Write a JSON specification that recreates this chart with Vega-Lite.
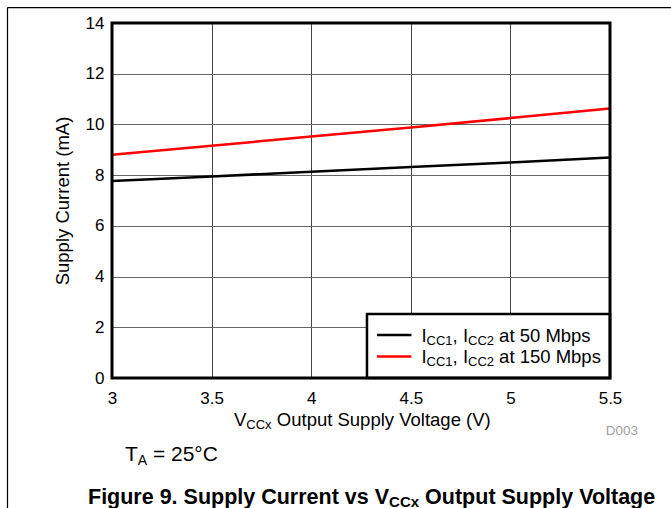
{
  "$schema": "https://vega.github.io/schema/vega-lite/v6.json",
  "width": 498,
  "height": 355,
  "autosize": {"type": "none"},
  "padding": {"left": 112, "top": 23, "right": 61, "bottom": 130},
  "background": "white",
  "data": {"values": [{}]},
  "config": {
    "view": {"stroke": null},
    "font": "Liberation Sans",
    "text": {"font": "Liberation Sans", "color": "black", "align": "left", "baseline": "alphabetic"},
    "axis": {"labelFont": "Liberation Sans", "titleFont": "Liberation Sans", "labelColor": "black", "titleColor": "black"}
  },
  "datasets": {
    "curves": [
      {"V": 3.0, "I": 7.77, "series": "50 Mbps"},
      {"V": 3.5, "I": 7.95, "series": "50 Mbps"},
      {"V": 4.0, "I": 8.13, "series": "50 Mbps"},
      {"V": 4.5, "I": 8.32, "series": "50 Mbps"},
      {"V": 5.0, "I": 8.5, "series": "50 Mbps"},
      {"V": 5.5, "I": 8.7, "series": "50 Mbps"},
      {"V": 3.0, "I": 8.8, "series": "150 Mbps"},
      {"V": 3.5, "I": 9.16, "series": "150 Mbps"},
      {"V": 4.0, "I": 9.52, "series": "150 Mbps"},
      {"V": 4.5, "I": 9.88, "series": "150 Mbps"},
      {"V": 5.0, "I": 10.25, "series": "150 Mbps"},
      {"V": 5.5, "I": 10.63, "series": "150 Mbps"}
    ]
  },
  "layer": [
    {
      "data": {"name": "curves"},
      "mark": {"type": "line", "strokeWidth": 2.5, "clip": true},
      "encoding": {
        "x": {
          "field": "V", "type": "quantitative",
          "scale": {"domain": [3, 5.5], "nice": false, "zero": false},
          "axis": {"title": null, "values": [3, 3.5, 4, 4.5, 5, 5.5], "format": "~g", "domain": false, "ticks": false, "labelPadding": 12, "labelFontSize": 17, "grid": true, "gridColor": "#444", "gridWidth": 1, "labelFlush": false}
        },
        "y": {
          "field": "I", "type": "quantitative",
          "scale": {"domain": [0, 14], "nice": false, "zero": false},
          "axis": {"title": "Supply Current (mA)", "values": [0, 2, 4, 6, 8, 10, 12, 14], "domain": false, "ticks": false, "labelPadding": 8, "labelFontSize": 17, "titleFontSize": 18.5, "titleFontWeight": "normal", "titlePadding": 13, "grid": true, "gridColor": "#666", "gridWidth": 1}
        },
        "color": {
          "field": "series", "type": "nominal",
          "scale": {"domain": ["50 Mbps", "150 Mbps"], "range": ["#000000", "#ff0000"]},
          "legend": null
        }
      }
    },
    {
      "mark": {"type": "rect", "fill": "white", "stroke": "black", "strokeWidth": 2.5},
      "encoding": {"x": {"datum": 4.28}, "x2": {"datum": 5.5}, "y": {"datum": 0}, "y2": {"datum": 2.52}}
    },
    {
      "mark": {"type": "rule", "color": "black", "strokeWidth": 2.5},
      "encoding": {"x": {"datum": 4.33}, "x2": {"datum": 4.503}, "y": {"datum": 1.696}}
    },
    {
      "mark": {"type": "rule", "color": "#ff0000", "strokeWidth": 2.5},
      "encoding": {"x": {"datum": 4.33}, "x2": {"datum": 4.503}, "y": {"datum": 0.848}}
    },
    {"mark": {"type": "text", "text": "I", "fontSize": 18.5, "dx": 0}, "encoding": {"x": {"datum": 4.5537}, "y": {"datum": 1.408}}},
    {"mark": {"type": "text", "text": "CC1", "fontSize": 13, "dx": 5.1, "dy": 3}, "encoding": {"x": {"datum": 4.5537}, "y": {"datum": 1.408}}},
    {"mark": {"type": "text", "text": ", I", "fontSize": 18.5, "dx": 31.1}, "encoding": {"x": {"datum": 4.5537}, "y": {"datum": 1.408}}},
    {"mark": {"type": "text", "text": "CC2", "fontSize": 13, "dx": 46.5, "dy": 3}, "encoding": {"x": {"datum": 4.5537}, "y": {"datum": 1.408}}},
    {"mark": {"type": "text", "text": "at 50 Mbps", "fontSize": 18.5, "dx": 77.6}, "encoding": {"x": {"datum": 4.5537}, "y": {"datum": 1.408}}},
    {"mark": {"type": "text", "text": "I", "fontSize": 18.5, "dx": 0}, "encoding": {"x": {"datum": 4.5537}, "y": {"datum": 0.58}}},
    {"mark": {"type": "text", "text": "CC1", "fontSize": 13, "dx": 5.1, "dy": 3}, "encoding": {"x": {"datum": 4.5537}, "y": {"datum": 0.58}}},
    {"mark": {"type": "text", "text": ", I", "fontSize": 18.5, "dx": 31.1}, "encoding": {"x": {"datum": 4.5537}, "y": {"datum": 0.58}}},
    {"mark": {"type": "text", "text": "CC2", "fontSize": 13, "dx": 46.5, "dy": 3}, "encoding": {"x": {"datum": 4.5537}, "y": {"datum": 0.58}}},
    {"mark": {"type": "text", "text": "at 150 Mbps", "fontSize": 18.5, "dx": 77.6}, "encoding": {"x": {"datum": 4.5537}, "y": {"datum": 0.58}}},
    {"mark": {"type": "text", "text": "V", "fontSize": 18.5, "dx": 0}, "encoding": {"x": {"datum": 3.6125}, "y": {"datum": -1.893}}},
    {"mark": {"type": "text", "text": "CCx", "fontSize": 13, "dx": 12.3, "dy": 3}, "encoding": {"x": {"datum": 3.6125}, "y": {"datum": -1.893}}},
    {"mark": {"type": "text", "text": "Output Supply Voltage (V)", "fontSize": 18.5, "dx": 42.8}, "encoding": {"x": {"datum": 3.6125}, "y": {"datum": -1.893}}},
    {"mark": {"type": "text", "text": "D003", "fontSize": 13.5, "align": "right", "color": "#a0a0a0"}, "encoding": {"x": {"datum": 5.6406}, "y": {"datum": -2.248}}},
    {"mark": {"type": "text", "text": "T", "fontSize": 21, "dx": 0}, "encoding": {"x": {"datum": 3.0653}, "y": {"datum": -3.273}}},
    {"mark": {"type": "text", "text": "A", "fontSize": 14, "dx": 12.8, "dy": 4}, "encoding": {"x": {"datum": 3.0653}, "y": {"datum": -3.273}}},
    {"mark": {"type": "text", "text": "= 25°C", "fontSize": 21, "dx": 27.9}, "encoding": {"x": {"datum": 3.0653}, "y": {"datum": -3.273}}},
    {"mark": {"type": "text", "text": "Figure 9. Supply Current vs V", "fontSize": 21.5, "fontWeight": "bold", "dx": 0}, "encoding": {"x": {"datum": 2.8795}, "y": {"datum": -4.97}}},
    {"mark": {"type": "text", "text": "CCx", "fontSize": 15, "fontWeight": "bold", "dx": 301.1, "dy": 3}, "encoding": {"x": {"datum": 2.8795}, "y": {"datum": -4.97}}},
    {"mark": {"type": "text", "text": "Output Supply Voltage", "fontSize": 21.5, "fontWeight": "bold", "dx": 337.1}, "encoding": {"x": {"datum": 2.8795}, "y": {"datum": -4.97}}},
    {
      "mark": {"type": "rule", "color": "black", "strokeWidth": 1.2},
      "encoding": {"x": {"datum": 2.4754}, "x2": {"datum": 5.95}, "y": {"datum": 14.61}}
    },
    {
      "mark": {"type": "rule", "color": "black", "strokeWidth": 1.2},
      "encoding": {"x": {"datum": 2.4754}, "y": {"datum": 14.61}, "y2": {"datum": -6}}
    },
    {
      "mark": {"type": "rect", "fillOpacity": 0, "fill": "white", "stroke": "black", "strokeWidth": 3},
      "encoding": {"x": {"datum": 3}, "x2": {"datum": 5.5}, "y": {"datum": 0}, "y2": {"datum": 14}}
    }
  ]
}
